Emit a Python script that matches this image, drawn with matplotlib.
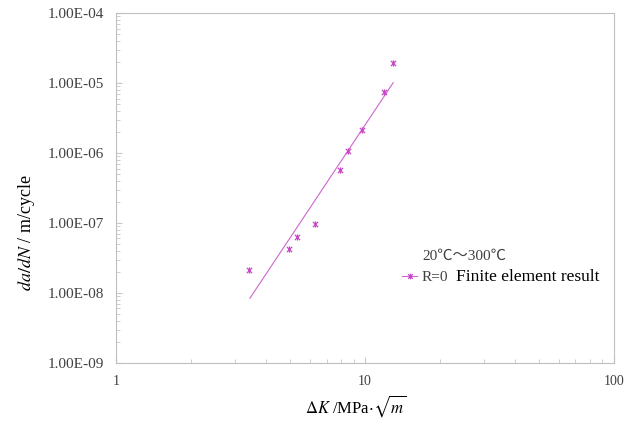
import math
import matplotlib
matplotlib.use('Agg')
import matplotlib.pyplot as plt
from matplotlib.lines import Line2D
from matplotlib.path import Path
from matplotlib.ticker import FixedLocator, FuncFormatter, LogLocator, NullFormatter

# finite element result, R=0
dk = [3.42, 4.92, 5.30, 6.27, 7.94, 8.53, 9.68, 11.9, 12.97]
dadn = [2.13e-8, 4.25e-8, 6.25e-8, 9.58e-8, 5.72e-7, 1.06e-6, 2.11e-6, 7.44e-6, 1.95e-5]

# fitted power-law line end points
fit_dk = [3.44, 12.97]
fit_dadn = [8.4e-9, 1.01e-5]

plt.rcParams['font.family'] = ['Liberation Serif', 'Noto Sans CJK SC']
plt.rcParams['mathtext.fontset'] = 'stix'

# excel style star marker: x with a vertical bar
star = Path([(-1, -1), (1, 1), (-1, 1), (1, -1), (0, -1.2), (0, 1.2)],
            [Path.MOVETO, Path.LINETO, Path.MOVETO, Path.LINETO, Path.MOVETO, Path.LINETO])

fig = plt.figure(figsize=(6.4, 4.26), dpi=100)
ax = fig.add_axes([0.182, 0.148, 0.777, 0.8215])

ax.plot(fit_dk, fit_dadn, color='#cc66cc', lw=0.8)
ax.plot(dk, dadn, ls='none', marker=star, ms=4.5, mew=0.9, color='#c846c8')

ax.set_xscale('log')
ax.set_yscale('log')
ax.set_xlim(1, 100)
ax.set_ylim(1e-9, 1e-4)

ax.yaxis.set_major_locator(FixedLocator([1e-9, 1e-8, 1e-7, 1e-6, 1e-5, 1e-4]))
ax.yaxis.set_major_formatter(FuncFormatter(lambda v, p: '1.00E-%02d' % round(-math.log10(v))))
ax.yaxis.set_minor_locator(LogLocator(base=10, subs=range(2, 10)))
ax.yaxis.set_minor_formatter(NullFormatter())
ax.xaxis.set_major_locator(FixedLocator([1, 10, 100]))
ax.xaxis.set_major_formatter(FuncFormatter(lambda v, p: '%d' % v))
ax.xaxis.set_minor_locator(LogLocator(base=10, subs=range(2, 10)))
ax.xaxis.set_minor_formatter(NullFormatter())

for s in ax.spines.values():
    s.set_color('#bfbfbf')
ax.tick_params(which='both', direction='in', color='#c8c8c8', labelcolor='#404040')
ax.tick_params(axis='x', labelsize=10, pad=9)
ax.tick_params(axis='y', labelsize=11, pad=9)
ax.tick_params(which='major', length=4)
ax.tick_params(which='minor', length=3)

ax.set_xlabel(r'$\Delta K$ /MPa$\cdot\sqrt{m}$', fontsize=12)
ax.xaxis.set_label_coords(0.482, -0.085)
ax.set_ylabel(r'$da/dN$ / m/cycle', fontsize=13)
ax.yaxis.set_label_coords(-0.16, 0.371)

handle = Line2D([], [], color='#cc66cc', lw=0.8, marker=star, ms=4, mew=0.9, mec='#c846c8')
leg = ax.legend([handle], ['R=0'], loc='center left', bbox_to_anchor=(0.562, 0.245), frameon=False,
                fontsize=11, handlelength=1.0, handletextpad=0.3, borderaxespad=0)
for t in leg.get_texts():
    t.set_color('#404040')
ax.text(0.682, 0.245, 'Finite element result', transform=ax.transAxes, fontsize=12.5,
        va='center', color='black')
ax.text(0.615, 0.305, '20℃～300℃', transform=ax.transAxes, fontsize=11,
        va='center', color='#404040')

fig.savefig('out.png', dpi=100)
